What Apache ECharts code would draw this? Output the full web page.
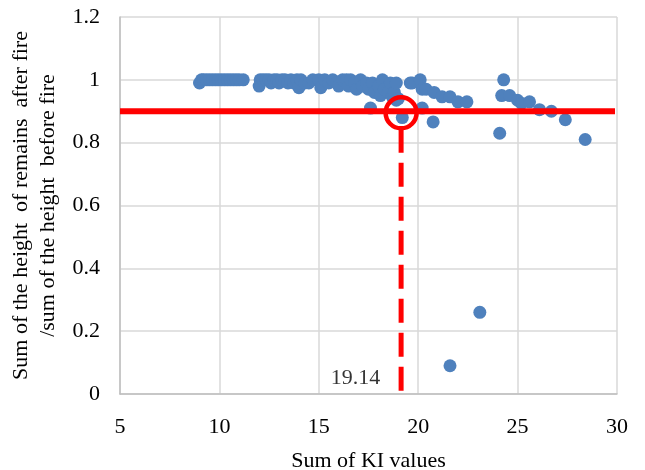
<!DOCTYPE html>
<html><head><meta charset="utf-8">
<script src="https://cdn.jsdelivr.net/npm/echarts@6/dist/echarts.min.js"></script>
<style>html,body{margin:0;padding:0;background:#fff}#c{width:645px;height:470px}</style>
</head><body><div id="c"></div>
<script>
const kiValues = [9.0,9.1,9.2,9.35,9.5,9.65,9.8,9.95,10.1,10.25,10.4,10.55,10.7,10.85,11.0,11.2,
  12.0,12.05,12.2,12.35,12.5,12.6,12.75,12.9,13.0,13.15,13.3,13.45,13.6,13.75,13.9,14.0,14.1,14.3,14.5,14.7,
  15.0,15.1,15.3,15.5,15.7,15.9,16.0,16.2,16.4,16.5,16.6,16.8,16.9,17.1,17.2,17.4,17.5,17.6,17.7,17.8,
  18.0,18.1,18.2,18.3,18.5,18.6,18.7,18.8,18.9,18.9,19.0,19.2,19.6,19.7,20.1,20.2,20.2,20.4,20.75,20.8,
  21.2,21.6,21.6,22.0,22.45,23.1,24.1,24.2,24.3,24.6,25.0,25.2,25.6,26.1,26.7,27.4,28.4];
const ratioValues = [0.99,1.0,1.0,1.0,1.0,1.0,1.0,1.0,1.0,1.0,1.0,1.0,1.0,1.0,1.0,1.0,
  0.98,1.0,1.0,1.0,1.0,0.99,1.0,1.0,0.99,1.0,1.0,0.99,1.0,0.99,1.0,0.975,1.0,0.99,0.99,1.0,
  1.0,0.975,1.0,0.99,1.0,0.99,0.98,1.0,1.0,0.98,1.0,0.99,0.97,1.0,0.98,0.99,0.97,0.91,0.99,0.96,
  0.98,0.95,1.0,0.97,0.96,0.99,0.945,0.96,0.99,0.935,0.94,0.88,0.99,0.99,1.0,0.97,0.91,0.97,0.866,0.96,
  0.946,0.946,0.09,0.93,0.93,0.26,0.83,0.95,1.0,0.95,0.935,0.925,0.93,0.905,0.9,0.873,0.81];
const thresholdY = 0.9;
const thresholdX = 19.14;
const thresholdLabel = '19.14';
const xTicks = [5, 10, 15, 20, 25, 30];
const yTicks = [0, 0.2, 0.4, 0.6, 0.8, 1, 1.2];

const pts = kiValues.map((x, i) => [x, ratioValues[i]]);
const serif = '"Liberation Serif","Times New Roman",serif';
const chart = echarts.init(document.getElementById('c'));
chart.setOption({
  animation: false,
  grid: {left: 120, right: 28, top: 17, bottom: 76, outerBoundsMode: 'none', containLabel: false},
  xAxis: {
    type: 'value', min: 5, max: 30, interval: 5,
    name: 'Sum of KI values', nameLocation: 'middle', nameGap: 56,
    nameTextStyle: {fontFamily: serif, fontSize: 22, color: '#000'},
    axisLine: {show: true, lineStyle: {color: '#bfbfbf', width: 1.5}},
    axisTick: {show: false},
    axisLabel: {fontFamily: serif, fontSize: 22, color: '#000', margin: 22,
      formatter: v => xTicks.includes(v) ? String(v) : ''},
    splitLine: {show: true, lineStyle: {color: '#d9d9d9', width: 1.5}}
  },
  yAxis: {
    type: 'value', min: 0, max: 1.2, interval: 0.2,
    name: 'Sum of the height  of remains  after fire\n/sum of the height  before fire',
    nameLocation: 'middle', nameGap: 55, nameRotate: 90,
    nameTextStyle: {fontFamily: serif, fontSize: 22, color: '#000', lineHeight: 27},
    axisLine: {show: true, lineStyle: {color: '#bfbfbf', width: 1.5}},
    axisTick: {show: false},
    axisLabel: {fontFamily: serif, fontSize: 22, color: '#000', margin: 20,
      formatter: v => { const t = yTicks.find(k => Math.abs(k - v) < 1e-6); return t === undefined ? '' : String(t); }},
    splitLine: {show: true, lineStyle: {color: '#d9d9d9', width: 1.5}}
  },
  series: [
    {type: 'scatter', data: pts, symbolSize: 13, itemStyle: {color: '#4f81bd', opacity: 1}, z: 2},
    {type: 'line', data: [[5, thresholdY], [29.9, thresholdY]], symbol: 'none',
      lineStyle: {color: '#ff0000', width: 6}, z: 3},
    {type: 'line', data: [[thresholdX, 0.01], [thresholdX, 0.85]], symbol: 'none',
      lineStyle: {color: '#ff0000', width: 5, type: [24, 10]}, z: 3},
    {type: 'scatter', data: [[thresholdX, 0.895]], symbolSize: 31,
      itemStyle: {color: 'rgba(0,0,0,0)', borderColor: '#ff0000', borderWidth: 4.5, opacity: 1}, z: 4},
    {type: 'scatter', data: [[16.85, 0.05]], symbolSize: 0,
      label: {show: true, position: 'inside', formatter: thresholdLabel, fontFamily: serif, fontSize: 22, color: '#000'}, z: 5}
  ]
});
</script></body></html>
